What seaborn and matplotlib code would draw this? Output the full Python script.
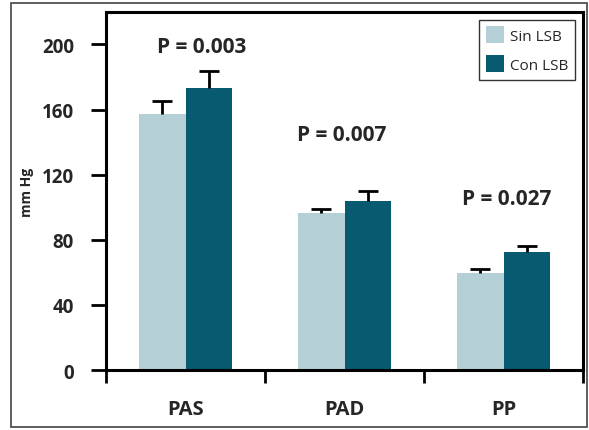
import pandas as pd
import matplotlib.pyplot as plt
import seaborn as sns
from matplotlib.patches import Rectangle

# datos
categorias = ['PAS', 'PAD', 'PP']
grupos = ['Sin LSB', 'Con LSB']
sin_lsb = [157.5, 96.5, 59.5]
con_lsb = [173, 104, 72.5]
err_sin = [8, 2.5, 2.5]
err_con = [11, 6, 3.5]
p_valores = ['P = 0.003', 'P = 0.007', 'P = 0.027']
p_altura = [199, 145, 105.5]
p_desplaz = [0.1, -0.02, 0.02]
y_ticks = [0, 40, 80, 120, 160, 200]

colores = ['#b5cfd6', '#075a70']

df = pd.DataFrame({
    'categoria': categorias * 2,
    'grupo': [grupos[0]] * 3 + [grupos[1]] * 3,
    'valor': sin_lsb + con_lsb,
    'err': err_sin + err_con,
})

sns.set_style('white')
plt.rcParams['font.family'] = ['Open Sans', 'DejaVu Sans']

fig = plt.figure(figsize=(5.89, 4.31), dpi=100)
ax = fig.add_axes([0.18, 0.139, 0.81, 0.831])

sns.barplot(data=df, x='categoria', y='valor', hue='grupo', order=categorias,
            hue_order=grupos, palette=colores, width=0.585, errorbar=None,
            saturation=1, linewidth=0, ax=ax)

# barras de error (solo hacia arriba, con tope arriba)
for patch, (_, fila) in zip(ax.patches, df.iterrows()):
    xc = patch.get_x() + patch.get_width() / 2
    base = patch.get_height()
    ax.vlines(xc, base, base + fila['err'], color='black', linewidth=2, zorder=3)
    ax.plot([xc], [base + fila['err']], marker='_', markersize=15,
            markeredgewidth=2, color='black', zorder=3)

for i, (txt, h, dx) in enumerate(zip(p_valores, p_altura, p_desplaz)):
    ax.text(i + dx, h, txt, ha='center', va='center', fontsize=15,
            fontweight='bold')

ax.set_ylim(0, 220)
ax.set_xlim(-0.5, 2.5)
ax.set_yticks(y_ticks)
ax.set_yticklabels([str(v) for v in y_ticks], fontsize=13.5, fontweight='bold')
ax.set_xticks([-0.5, 0.5, 1.5, 2.5])
ax.set_xticklabels([])
ax.set_xticks(range(len(categorias)), minor=True)
ax.set_xticklabels(categorias, minor=True, fontsize=14.5, fontweight='bold')
ax.tick_params(axis='x', which='minor', length=0, pad=21)
ax.tick_params(axis='x', which='major', direction='out', length=9, width=2,
               bottom=True, color='black')
ax.tick_params(axis='y', direction='out', length=11, width=2, left=True,
               color='black', pad=12)
ax.set_xlabel('')
ax.set_ylabel('mm Hg', fontsize=10, fontweight='bold', labelpad=6)

for s in ['left', 'bottom', 'top', 'right']:
    ax.spines[s].set_visible(True)
    ax.spines[s].set_color('black')
    ax.spines[s].set_linewidth(2.2)

leg = ax.legend(loc='upper right', fontsize=11, frameon=True, fancybox=False,
                handlelength=1.2, handleheight=1.3, borderpad=0.45,
                labelspacing=0.75, handletextpad=0.4, borderaxespad=0.5)
leg.get_frame().set_edgecolor('black')
leg.get_frame().set_linewidth(1)

# marco exterior
fig.patches.append(Rectangle((0.019, 0.007), 0.978, 0.984, transform=fig.transFigure,
                             fill=False, edgecolor='#444444', linewidth=1.2))

plt.savefig('out.png', dpi=100)
plt.close()
